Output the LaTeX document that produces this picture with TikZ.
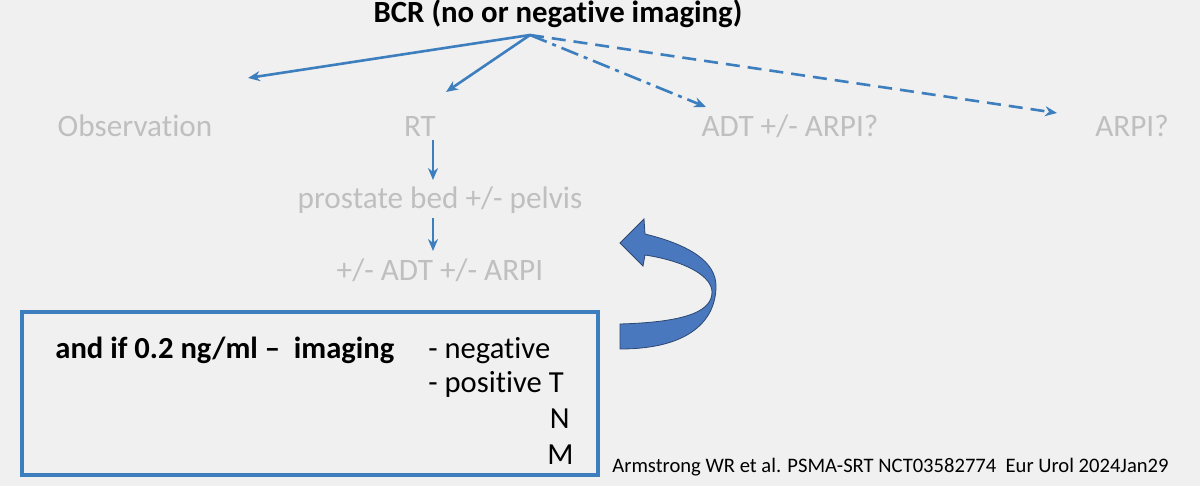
\documentclass[tikz,border=0pt]{standalone}
\usepackage{fontspec}
\setmainfont[Ligatures=NoCommon]{Carlito}
\usetikzlibrary{arrows.meta}
\begin{document}
\begin{tikzpicture}[x=0.5pt,y=-0.5pt,
  lbl/.style={text=black!25, font=\fontsize{15.6}{18}\selectfont, inner sep=0},
  bx/.style={font=\fontsize{15.3}{18}\selectfont, inner sep=0},
]
\definecolor{bl}{HTML}{3D7EBE}
\definecolor{ab}{HTML}{4A78BE}
\tikzset{conn/.style={draw=bl, line width=1.3pt, -{Stealth[length=6pt,width=5pt]}}}
\fill[black!6] (0,0) rectangle (1200,486);
\useasboundingbox (0,0) rectangle (1200,486);
\node[font=\bfseries\fontsize{15.4}{18}\selectfont, inner sep=0] (bcr) at (558,14) {BCR (no or negative imaging)};
\coordinate (o) at (530,35);
\node[lbl] (obs) at (135,126) {Observation};
\node[lbl] (rt) at (420,126) {RT};
\node[lbl] (adt) at (790,126) {ADT +/- ARPI?};
\node[lbl] (arpi) at (1132,126) {ARPI?};
\node[lbl] (pb) at (440,200) {prostate bed +/- pelvis};
\node[lbl] (adt2) at (440,270) {+/- ADT +/- ARPI};
\coordinate (e1) at (248,78);
\coordinate (e2) at (446,92);
\coordinate (e3) at (706,107);
\coordinate (e4) at (1057,113);
\draw[conn] (o) -- (e1);
\draw[conn] (o) -- (e2);
\draw[conn, dash pattern=on 9pt off 3pt on 2pt off 3pt] (o) -- (e3);
\draw[conn, dash pattern=on 7pt off 4pt] (o) -- (e4);
\draw[conn] (433,140) -- (433,180);
\draw[conn] (433,218) -- (433,251);
\node[draw=bl, line width=1.6pt, minimum width=288pt, minimum height=81.5pt, inner sep=0] (box) at (310,393.5) {};
\node[anchor=base west, font=\bfseries\fontsize{15.3}{18}\selectfont, inner sep=0] (t1) at (55,358) {and if 0.2 ng/ml --\ \ imaging};
\node[bx, anchor=base west] (t2) at (428,358) {- negative};
\node[bx, anchor=base west] (t3) at (428,393) {- positive T};
\node[bx, anchor=base east] (t4) at (570,429) {N};
\node[bx, anchor=base east] (t5) at (574,464) {M};
\node[anchor=base west, font=\fontsize{10.3}{12}\selectfont, inner sep=0] (cit) at (612,472) {Armstrong WR et al. PSMA-SRT NCT03582774\ \ Eur Urol 2024Jan29};
\fill[ab, draw=ab!60!black, line width=0.4pt]
  (620,349) .. controls (690,349) and (716,320) .. (716,286)
  .. controls (716,262) and (690,245) .. (645,234)
  -- (644,219) -- (620,243) -- (643,266) -- (645,255)
  .. controls (690,262) and (712,278) .. (712,292)
  .. controls (712,310) and (690,322) .. (620,324) -- cycle;
\end{tikzpicture}
\end{document}
